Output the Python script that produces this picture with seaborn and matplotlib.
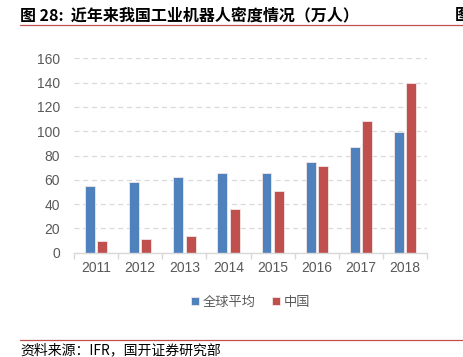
import matplotlib
matplotlib.use("Agg")
import matplotlib.pyplot as plt
import seaborn as sns
import pandas as pd
import numpy as np

years = ["2011", "2012", "2013", "2014", "2015", "2016", "2017", "2018"]
global_avg = [55, 58, 62, 66, 66, 75, 87, 99]
china = [10, 11, 14, 36, 51, 71, 108, 140]
series_names = ["全球平均", "中国"]
colors = ["#4F81BD", "#C0504D"]

df = pd.DataFrame({
    "year": years * 2,
    "value": global_avg + china,
    "series": [series_names[0]] * len(years) + [series_names[1]] * len(years),
})

sns.set_theme(style="white")
plt.rcParams['font.family'] = ['Noto Sans CJK SC', 'DejaVu Sans']

fig = plt.figure(figsize=(4.63, 3.57), dpi=100)
ax = fig.add_axes([0.1598, 0.292, 0.763, 0.5447])

sns.barplot(data=df, x="year", y="value", hue="series", palette=colors,
            saturation=1, width=0.56, gap=0.2, edgecolor="#F4E6E6", linewidth=0.6,
            ax=ax, legend=True)

ax.set_ylim(0, 160)
ax.set_xlim(-0.5, len(years) - 0.5)
ax.set_yticks(np.arange(0, 161, 20))
ax.yaxis.grid(True, linestyle=(0, (4, 3)), color="#D9D9D9", linewidth=0.9)
ax.set_axisbelow(True)
for s in ["top", "right", "left"]:
    ax.spines[s].set_visible(False)
ax.spines["bottom"].set_color("#D9D9D9")
ax.spines["bottom"].set_linewidth(1.0)
ax.set_xlabel("")
ax.set_ylabel("")

ax.set_xticks(np.arange(-0.5, len(years), 1.0), minor=True)
ax.tick_params(axis="x", which="minor", length=4, color="#D9D9D9", width=1.0, bottom=True)
ax.tick_params(axis="x", which="major", length=0, pad=6, labelsize=10, labelcolor="#595959")
ax.tick_params(axis="y", length=0, pad=10, labelsize=10, labelcolor="#595959")
for lbl in ax.get_xticklabels() + ax.get_yticklabels():
    lbl.set_fontfamily(["Liberation Sans", "DejaVu Sans"])

leg = ax.legend(loc="center", bbox_to_anchor=(0.5, -0.255), ncol=2, frameon=False,
                fontsize=9.5, handlelength=0.6, handleheight=0.6, handletextpad=0.3,
                columnspacing=1.2)
for t in leg.get_texts():
    t.set_color("#595959")

fig.text(20 / 463, 1 - 15 / 357, "图 28:  近年来我国工业机器人密度情况（万人）",
         fontsize=11.5, fontweight="bold", va="center", ha="left", color="#000000")
fig.text(455 / 463, 1 - 15 / 357, "图", fontsize=11.5, fontweight="bold",
         va="center", ha="left", color="#000000")
fig.add_artist(plt.Line2D([20 / 463, 1.0], [1 - 24.5 / 357] * 2, color="#C0504D", linewidth=0.9))
fig.add_artist(plt.Line2D([20 / 463, 1.0], [1 - 339.5 / 357] * 2, color="#C0504D", linewidth=0.9))
fig.text(20 / 463, 1 - 350 / 357, "资料来源：IFR，国开证券研究部", fontsize=10,
         va="center", ha="left", color="#000000")

fig.savefig("out.png", dpi=100)
